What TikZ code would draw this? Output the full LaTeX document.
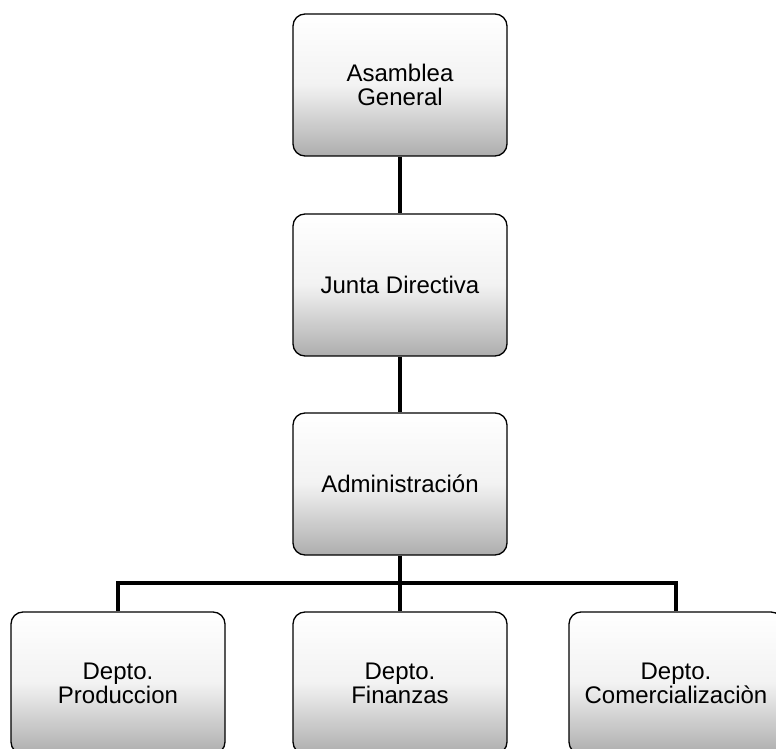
\documentclass[tikz,border=0pt]{standalone}
\usepackage{fontspec}
\setmainfont{Liberation Sans}
\usepackage{tikz}

\tikzset{
  cargo/.style={draw,rounded corners=12pt,line width=1.3pt,
    minimum width=214pt,minimum height=142pt,inner sep=0pt,align=center,
    top color=white,bottom color=black!32,middle color=white!95!black,
    font=\fontsize{24}{24}\selectfont},
  enlace/.style={line width=4pt}
}

\begin{document}
\begin{tikzpicture}[x=1pt,y=1pt]
  \useasboundingbox (0,0) rectangle (776,748);
  \clip (0,0) rectangle (776,748);
  \node (asamblea) at (400,663) [cargo] {Asamblea\\General};
  \node (junta) at (400,463) [cargo] {Junta Directiva};
  \node (admin) at (400,264) [cargo] {Administración};
  \node (prod) at (118,65) [cargo] {Depto.\\Produccion};
  \node (fin) at (400,65) [cargo] {Depto.\\Finanzas};
  \node (com) at (676,65) [cargo] {Depto.\\Comercializaciòn};
  \coordinate (bus) at (400,165);
  \draw[enlace] (asamblea) to (junta) to (admin) to (bus);
  \draw[enlace] (prod.north) |- (bus) -| (com.north);
  \draw[enlace] (bus) to (fin.north);
\end{tikzpicture}
\end{document}
